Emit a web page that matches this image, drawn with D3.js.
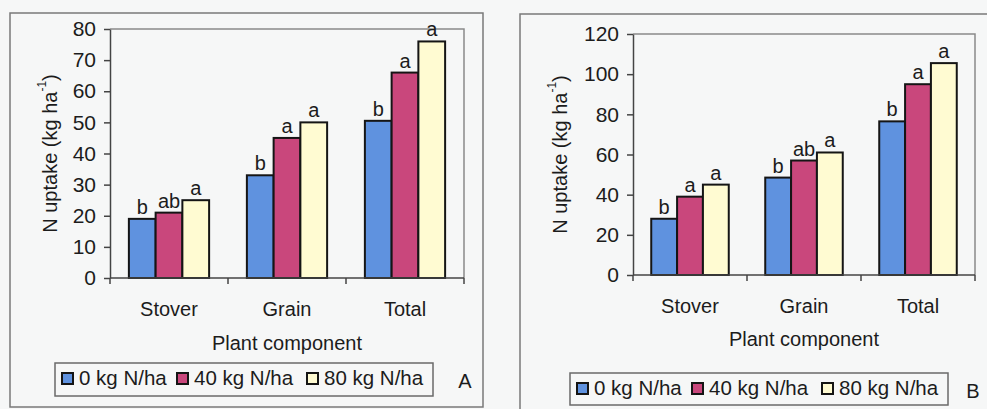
<!DOCTYPE html>
<html>
<head>
<meta charset="utf-8">
<script src="https://cdn.jsdelivr.net/npm/d3@7"></script>
<style>
  html, body { margin: 0; padding: 0; background: #f6f7f7; }
  svg { display: block; font-family: "Liberation Sans", Arial, sans-serif; }
  text { fill: #1c1c1c; }
</style>
</head>
<body>
<svg id="chart" width="987" height="409"></svg>
<script>
// Plant components on the x axis
const categories = ["Stover", "Grain", "Total"];
// Nitrogen rates (legend entries)
const seriesNames = ["0 kg N/ha", "40 kg N/ha", "80 kg N/ha"];

// Panel A: N uptake (kg/ha)
const uptakeA_0N  = [19, 33, 50.5];
const uptakeA_40N = [21, 45, 66];
const uptakeA_80N = [25, 50, 76];
const lettersA_0N  = ["b", "b", "b"];
const lettersA_40N = ["ab", "a", "a"];
const lettersA_80N = ["a", "a", "a"];
const ticksA = [0, 10, 20, 30, 40, 50, 60, 70, 80];

// Panel B: N uptake (kg/ha)
const uptakeB_0N  = [28, 48.5, 76.5];
const uptakeB_40N = [39, 57, 95];
const uptakeB_80N = [45, 61, 105.5];
const lettersB_0N  = ["b", "b", "b"];
const lettersB_40N = ["a", "ab", "a"];
const lettersB_80N = ["a", "a", "a"];
const ticksB = [0, 20, 40, 60, 80, 100, 120];

const seriesColors = ["#5f92df", "#c9477c", "#fffbd2"];

const svg = d3.select("#chart");

function drawPanel(opt) {
  const g = svg.append("g");
  const { left, top, right, bottom } = opt.plot;

  // outer frame of the panel
  g.append("path")
    .attr("d", opt.framePath)
    .attr("fill", "none")
    .attr("stroke", "#7a7a7a")
    .attr("stroke-width", 1.5);

  const x = d3.scaleBand().domain(categories).range([left, right]).padding(0);
  const bw = x.bandwidth();
  const xs = d3.scaleBand().domain(seriesNames)
    .range([bw * 0.16, bw * 0.84]).padding(0);
  const y = d3.scaleLinear().domain([0, d3.max(opt.ticks)]).range([bottom, top]);

  // plot area border (top and right)
  g.append("path")
    .attr("d", `M${left},${top}H${right}V${bottom}`)
    .attr("fill", "none")
    .attr("stroke", "#8a8a8a")
    .attr("stroke-width", 1.5);

  const rows = [];
  opt.values.forEach((vals, si) => {
    vals.forEach((v, ci) => {
      rows.push({ cat: categories[ci], series: seriesNames[si], si, value: v, letter: opt.letters[si][ci] });
    });
  });

  // bars
  g.selectAll("rect.bar").data(rows).join("rect")
    .attr("class", "bar")
    .attr("x", d => x(d.cat) + xs(d.series))
    .attr("y", d => y(d.value))
    .attr("width", xs.bandwidth())
    .attr("height", d => y(0) - y(d.value))
    .attr("fill", d => seriesColors[d.si])
    .attr("stroke", "#151515")
    .attr("stroke-width", 2);

  // significance letters
  g.selectAll("text.sig").data(rows).join("text")
    .attr("class", "sig")
    .attr("x", d => x(d.cat) + xs(d.series) + xs.bandwidth() / 2)
    .attr("y", d => y(d.value) - 5)
    .attr("text-anchor", "middle")
    .attr("font-size", 20)
    .text(d => d.letter);

  // y axis
  const yAxis = g.append("g")
    .attr("transform", `translate(${left},0)`)
    .call(d3.axisLeft(y).tickValues(opt.ticks).tickSize(6).tickPadding(8).tickSizeOuter(0));
  yAxis.select(".domain").attr("stroke", "#444").attr("stroke-width", 1.5);
  yAxis.selectAll(".tick line").attr("stroke", "#444").attr("stroke-width", 1.5);
  yAxis.selectAll(".tick text")
    .attr("font-size", 21).attr("font-family", "Liberation Sans, Arial, sans-serif")
    .attr("fill", "#1c1c1c");

  // x axis with tick marks on category boundaries
  const bounds = d3.range(categories.length + 1).map(i => left + i * bw);
  g.append("line")
    .attr("x1", left).attr("x2", right)
    .attr("y1", bottom).attr("y2", bottom)
    .attr("stroke", "#444").attr("stroke-width", 1.5);
  g.selectAll("line.xtick").data(bounds).join("line")
    .attr("class", "xtick")
    .attr("x1", d => d).attr("x2", d => d)
    .attr("y1", bottom).attr("y2", bottom + 6)
    .attr("stroke", "#444").attr("stroke-width", 1.5);
  g.selectAll("text.cat").data(categories).join("text")
    .attr("class", "cat")
    .attr("x", d => x(d) + bw / 2)
    .attr("y", bottom + 38)
    .attr("text-anchor", "middle")
    .attr("font-size", 20)
    .text(d => d);

  // x axis title
  g.append("text")
    .attr("x", (left + right) / 2)
    .attr("y", opt.xTitleY)
    .attr("text-anchor", "middle")
    .attr("font-size", 20)
    .text("Plant component");

  // y axis title
  const yt = g.append("text")
    .attr("transform", `translate(${opt.yTitleX},${(top + bottom) / 2}) rotate(-90)`)
    .attr("text-anchor", "middle")
    .attr("dominant-baseline", "central")
    .attr("font-size", 20);
  yt.append("tspan").text("N uptake (kg ha");
  yt.append("tspan").attr("font-size", 12).attr("dy", -8).text("-1");
  yt.append("tspan").attr("dy", 8).text(")");

  // legend
  const lg = g.append("g").attr("transform", `translate(${opt.legend.x},${opt.legend.y})`);
  lg.append("rect")
    .attr("width", 378).attr("height", opt.legend.h)
    .attr("fill", "none").attr("stroke", "#6a6a6a").attr("stroke-width", 1.5);
  const itemX = [7, 122, 252];
  const items = lg.selectAll("g.item").data(seriesNames).join("g")
    .attr("class", "item")
    .attr("transform", (d, i) => `translate(${itemX[i]},0)`);
  items.append("rect")
    .attr("y", opt.legend.base - 12)
    .attr("width", 11).attr("height", 11)
    .attr("fill", (d, i) => seriesColors[i])
    .attr("stroke", "#151515").attr("stroke-width", 2);
  items.append("text")
    .attr("x", 17)
    .attr("y", opt.legend.base)
    .attr("font-size", 20.5)
    .text(d => d);

  // panel letter
  g.append("text")
    .attr("x", opt.tag.x).attr("y", opt.tag.y)
    .attr("text-anchor", "middle")
    .attr("font-size", 20)
    .text(opt.tag.label);
}

drawPanel({
  framePath: "M10,13H483V407H10Z",
  plot: { left: 110, top: 29, right: 464, bottom: 278 },
  values: [uptakeA_0N, uptakeA_40N, uptakeA_80N],
  letters: [lettersA_0N, lettersA_40N, lettersA_80N],
  ticks: ticksA,
  xTitleY: 350,
  yTitleX: 50,
  legend: { x: 55, y: 363, h: 33, base: 22 },
  tag: { x: 465, y: 388, label: "A" }
});

drawPanel({
  framePath: "M520,420V14H990",
  plot: { left: 633, top: 34, right: 975, bottom: 275 },
  values: [uptakeB_0N, uptakeB_40N, uptakeB_80N],
  letters: [lettersB_0N, lettersB_40N, lettersB_80N],
  ticks: ticksB,
  xTitleY: 346,
  yTitleX: 560,
  legend: { x: 570, y: 373, h: 32, base: 22 },
  tag: { x: 973, y: 398, label: "B" }
});
</script>
</body>
</html>
